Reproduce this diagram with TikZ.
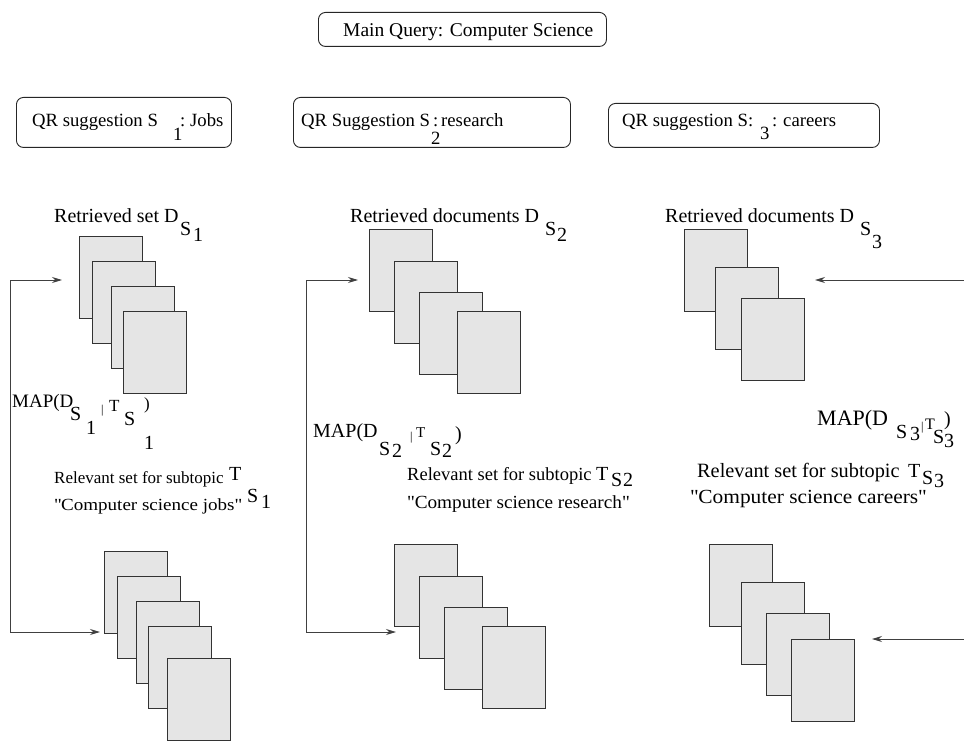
\documentclass[tikz,border=0pt]{standalone}
\usepackage{fontspec}
\setmainfont{Liberation Serif}
\usetikzlibrary{arrows.meta}
\newcommand{\fs}[1]{\fontsize{#1}{#1}\selectfont}
\newcommand{\wide}[1]{\addfontfeature{FakeStretch=#1}}
\begin{document}
\begin{tikzpicture}[x=1pt,y=-1pt,
  >={Stealth[length=10pt,width=6pt]},
  page/.style={draw=black!80, fill=black!10, line width=0.9pt, minimum width=63pt, minimum height=82pt, anchor=north west, inner sep=0pt},
  qbox/.style={draw=black!85, rounded corners=7pt, line width=0.9pt, anchor=north west, inner sep=0pt},
  txt/.style={anchor=base west, inner sep=0pt, font=\fs{20}},
  qtxt/.style={txt, font=\fs{18.7}},
  conn/.style={draw=black!75, line width=0.9pt}]
\useasboundingbox (0,0) rectangle (964,746);
% boxes
\node[qbox, minimum width=288pt, minimum height=34pt] (mq) at (318,12) {};
\node[txt, font=\fs{19.5}] (mqt) at (343,37) {Main Query: Computer Science};
\node[qbox, minimum width=215pt, minimum height=50pt] (q1) at (16,97) {};
\node[qbox, minimum width=277pt, minimum height=50pt] (q2) at (293,97) {};
\node[qbox, minimum width=271pt, minimum height=44pt] (q3) at (608,103) {};
\node[qtxt] (q1a) at (32,127) {QR suggestion S};
\node[qtxt] (q1b) at (173,141) {1};
\node[qtxt] (q1c) at (180,127) {:};
\node[qtxt] (q1d) at (190,127) {Jobs};
\node[qtxt] (q2a) at (301,127) {QR Suggestion S};
\node[qtxt] (q2b) at (433,127) {:};
\node[qtxt] (q2c) at (431,145) {2};
\node[qtxt] (q2d) at (441,127) {research};
\node[qtxt] (q3a) at (622,127) {QR suggestion S};
\node[qtxt] (q3b) at (748,127) {:};
\node[qtxt] (q3c) at (760,140) {3};
\node[qtxt] (q3d) at (772,127) {:};
\node[qtxt] (q3e) at (783,127) {careers};
% stack 1 top
\node[txt] (r1) at (54,223) {Retrieved set D};
\node[txt] (r1s) at (180,236) {S};
\node[txt] (r1n) at (193,242) {1};
\node[page] (a1) at (79,236) {};
\node[page] (a2) at (92,261) {};
\node[page] (a3) at (111,286) {};
\node[page] (a4) at (123,311) {};
% stack 1 bottom
\node[page] (b1) at (104,551) {};
\node[page] (b2) at (117,576) {};
\node[page] (b3) at (136,601) {};
\node[page] (b4) at (148,626) {};
\node[page] (b5) at (167,658) {};
% stack 2 top
\node[txt] (r2) at (350,223) {Retrieved documents D};
\node[txt] (r2s) at (545,236) {S};
\node[txt] (r2n) at (557,242) {2};
\node[page] (c1) at (369,229) {};
\node[page] (c2) at (394,261) {};
\node[page] (c3) at (419,292) {};
\node[page] (c4) at (457,311) {};
% stack 2 bottom
\node[page] (d1) at (394,544) {};
\node[page] (d2) at (419,576) {};
\node[page] (d3) at (444,607) {};
\node[page] (d4) at (482,626) {};
% stack 3 top
\node[txt] (r3) at (665,223) {Retrieved documents D};
\node[txt] (r3s) at (860,236) {S};
\node[txt] (r3n) at (872,248) {3};
\node[page] (e1) at (684,229) {};
\node[page] (e2) at (715,267) {};
\node[page] (e3) at (741,298) {};
% stack 3 bottom
\node[page] (f1) at (709,544) {};
\node[page] (f2) at (741,582) {};
\node[page] (f3) at (766,613) {};
\node[page] (f4) at (791,639) {};
% MAP 1
\node[txt, font=\fs{19}] (m1a) at (12,407) {MAP(D};
\node[txt] (m1b) at (70,420) {S};
\node[txt] (m1c) at (86,434) {1};
\node[txt, font=\fs{12}] (m1d) at (101,413) {|};
\node[txt, font=\fs{17}] (m1e) at (109,411) {T};
\node[txt] (m1f) at (124,425) {S};
\node[txt, font=\fs{17}] (m1g) at (144,409) {)};
\node[txt] (m1h) at (144,449) {1};
\node[txt, font=\fs{17}] (l1a) at (54,483) {Relevant set for subtopic};
\node[txt, font=\fs{17}\wide{1.12}] (l1b) at (54,510) {\textquotedbl Computer science jobs\textquotedbl};
\node[txt] (l1c) at (229,480) {T};
\node[txt] (l1d) at (247,502) {S};
\node[txt] (l1e) at (261,508) {1};
% MAP 2
\node[txt] (m2a) at (313,437) {MAP(D};
\node[txt] (m2b) at (379,455) {S};
\node[txt] (m2c) at (392,457) {2};
\node[txt, font=\fs{12}] (m2d) at (410,440) {|};
\node[txt, font=\fs{15}] (m2e) at (416,437) {T};
\node[txt] (m2f) at (430,455) {S};
\node[txt] (m2g) at (442,457) {2};
\node[txt] (m2h) at (455,440) {)};
\node[txt, font=\fs{18.5}] (l2a) at (407,480) {Relevant set for subtopic};
\node[txt, font=\fs{18.5}\wide{1.04}] (l2b) at (407,508) {\textquotedbl Computer science research\textquotedbl};
\node[txt] (l2c) at (596,480) {T};
\node[txt] (l2d) at (611,486) {S};
\node[txt] (l2e) at (623,486) {2};
% MAP 3
\node[txt, font=\fs{22}] (m3a) at (817,425) {MAP(D};
\node[txt] (m3b) at (896,438) {S};
\node[txt] (m3c) at (910,440) {3};
\node[txt, font=\fs{12}] (m3d) at (921,430) {|};
\node[txt, font=\fs{16}] (m3e) at (925,429) {T};
\node[txt] (m3f) at (933,443) {S};
\node[txt] (m3g) at (944,447) {3};
\node[txt] (m3h) at (944,425) {)};
\node[txt, font=\fs{20.3}] (l3a) at (697,477) {Relevant set for subtopic};
\node[txt, font=\fs{20}\wide{1.07}] (l3b) at (690,503) {\textquotedbl Computer science careers\textquotedbl};
\node[txt] (l3c) at (908,477) {T};
\node[txt] (l3d) at (922,484) {S};
\node[txt] (l3e) at (934,487) {3};
% connectors
\coordinate (t1) at (62,280);
\coordinate (k1a) at (10,280);
\coordinate (k1b) at (10,632);
\coordinate (u1) at (100,632);
\draw[conn,<->] (t1) -- (k1a) -- (k1b) -- (u1);
\coordinate (t2) at (358,280);
\coordinate (k2a) at (306,280);
\coordinate (k2b) at (306,632);
\coordinate (u2) at (396,632);
\draw[conn,<->] (t2) -- (k2a) -- (k2b) -- (u2);
\coordinate (s3a) at (964,280);
\coordinate (t3) at (815,280);
\draw[conn,->] (s3a) -- (t3);
\coordinate (s3b) at (964,639);
\coordinate (u3) at (872,639);
\draw[conn,->] (s3b) -- (u3);
\end{tikzpicture}
\end{document}
